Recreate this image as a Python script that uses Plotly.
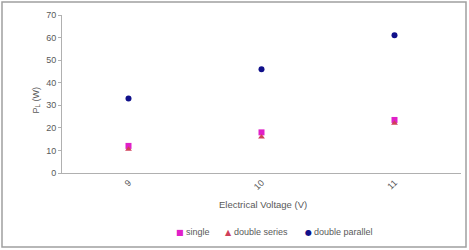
import plotly.graph_objects as go

voltages = ["9", "10", "11"]
single = [12, 18, 23.5]
double_series = [10.5, 16, 22]
double_parallel = [33, 46, 61]
y_ticks = [0, 10, 20, 30, 40, 50, 60, 70]
legend_names = ["single", "double series", "double parallel"]

W, H = 469, 250
L, R, T, B = 62, 8, 15, 77
pw, ph = W - L - R, H - T - B

def px(x):
    return (x - L) / pw

def py(y):
    return (H - B - y) / ph

gray = "#595959"
fam = "Liberation Sans, Arial, sans-serif"
colors = ["#E020C8", "#D0405A", "#10108A"]
symbols = ["square", "triangle-up", "circle"]

fig = go.Figure()
for name, vals, col, sym in zip(legend_names, [single, double_series, double_parallel], colors, symbols):
    fig.add_trace(go.Scatter(x=voltages, y=vals, mode="markers", name=name,
                             marker=dict(symbol=sym, size=6, color=col)))

annotations = [
    dict(text="Electrical Voltage (V)", x=px(263), y=py(212), xref="paper", yref="paper",
         showarrow=False, font=dict(size=9.5, color=gray, family=fam)),
    dict(text="P<sub>L</sub> (W)", x=px(28), y=py(100), xref="paper", yref="paper",
         showarrow=False, textangle=-90, font=dict(size=9, color=gray, family=fam)),
]
# custom compact legend
leg_sym_x = [180, 228, 308]
leg_glyph = ["\u25A0", "\u25B2", "\u25CF"]
for name, col, g, sx in zip(legend_names, colors, leg_glyph, leg_sym_x):
    annotations.append(dict(text=g, x=px(sx), y=py(232), xref="paper", yref="paper",
                            showarrow=False, xanchor="center", yanchor="middle",
                            font=dict(size=8, color=col, family="DejaVu Sans")))
    annotations.append(dict(text=name, x=px(sx + 4), y=py(232), xref="paper", yref="paper",
                            showarrow=False, xanchor="left", yanchor="middle",
                            font=dict(size=9, color=gray, family=fam)))

fig.update_layout(
    width=W, height=H,
    margin=dict(l=L, r=R, t=T, b=B),
    paper_bgcolor="white", plot_bgcolor="white",
    font=dict(family=fam, size=9, color=gray),
    showlegend=False,
    xaxis=dict(type="category", range=[-0.5, 2.5], showgrid=False, showline=True,
               linecolor="#B0B0B0", linewidth=1, ticks="", tickangle=-45,
               tickfont=dict(size=9, color=gray)),
    yaxis=dict(range=[0, 70], tickvals=y_ticks, showgrid=False, showline=True,
               linecolor="#B0B0B0", linewidth=1, ticks="outside", ticklen=3,
               tickcolor="#B0B0B0", zeroline=False, tickfont=dict(size=9, color=gray)),
    annotations=annotations,
    shapes=[
        dict(type="rect", xref="paper", yref="paper", x0=px(2), x1=px(466), y0=py(247), y1=py(2),
             line=dict(color="#A0A0A0", width=1.5), fillcolor="rgba(0,0,0,0)", layer="below"),
    ],
)

fig.write_html("out.html", config={"displayModeBar": False},
               post_script="document.body.style.margin='0';document.body.style.overflow='hidden';")
